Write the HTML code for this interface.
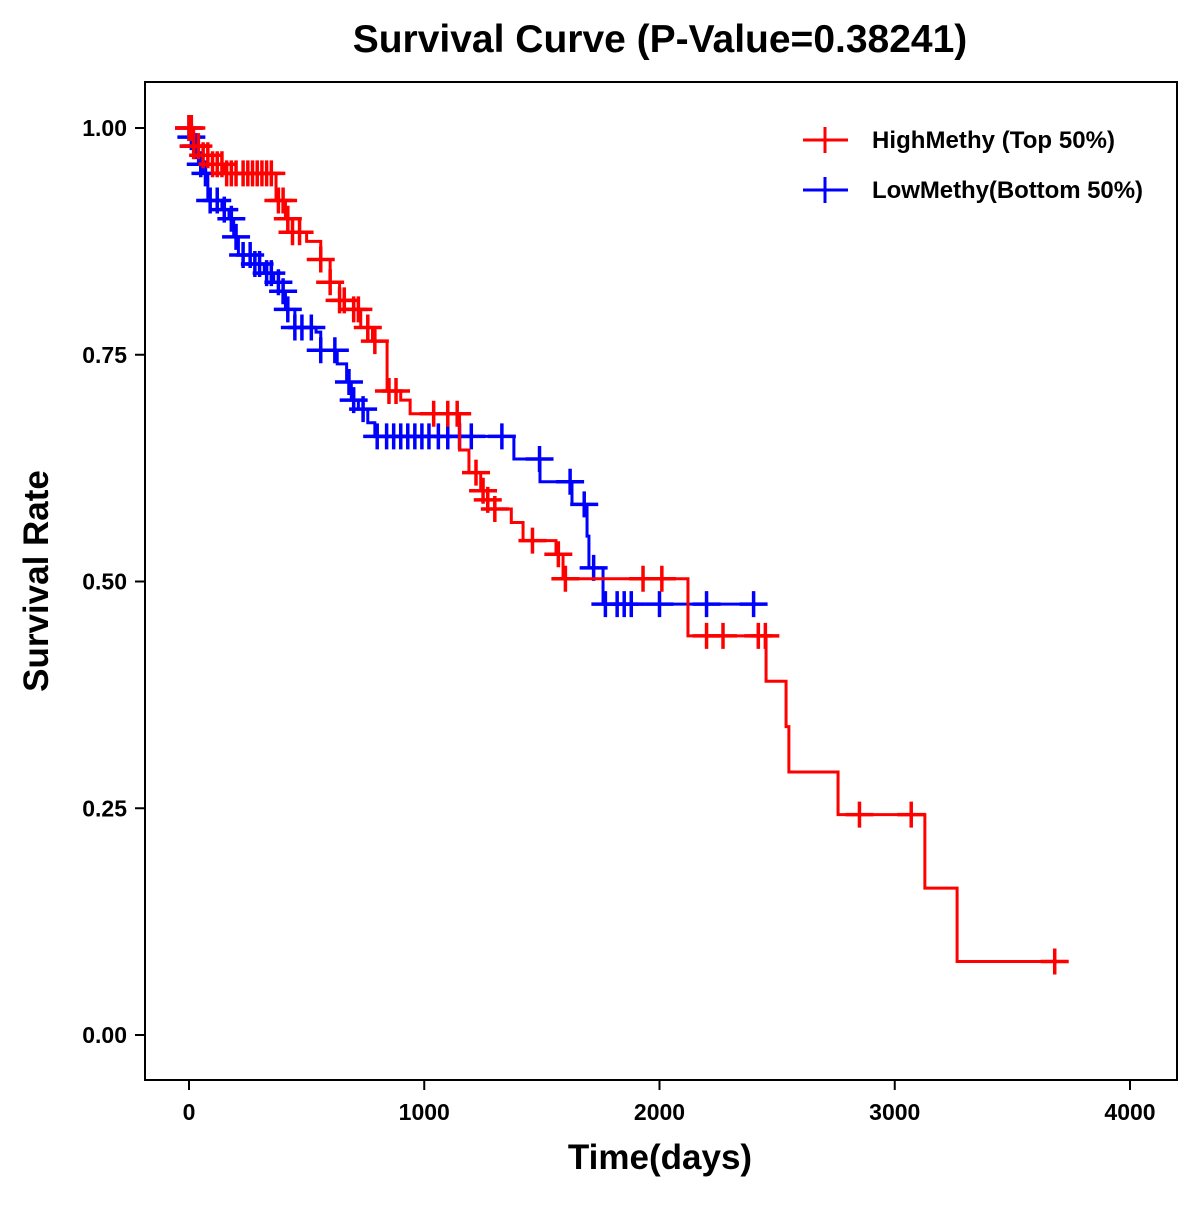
<!DOCTYPE html>
<html><head><meta charset="utf-8"><style>
body{margin:0;background:#fff}
svg text{font-family:"Liberation Sans",Arial,sans-serif;font-weight:bold}
</style></head><body>
<svg id="chart" width="1200" height="1200">
<rect x="0" y="0" width="1200" height="1200" fill="#fff"/>
<text x="660" y="52" font-size="39" text-anchor="middle">Survival Curve (P-Value=0.38241)</text>
<rect x="145" y="82" width="1032" height="998" fill="none" stroke="#000" stroke-width="2"/>
<g id="axes"></g>
<g id="series"></g>
<text x="660" y="1169" font-size="35" text-anchor="middle">Time(days)</text>
<text transform="translate(48,581) rotate(-90)" font-size="35" text-anchor="middle">Survival Rate</text>
<g>
<g>
<line x1="803" y1="140" x2="848" y2="140" stroke="#f00" stroke-width="3"/><line x1="825" y1="127" x2="825" y2="153" stroke="#f00" stroke-width="3"/>
<text x="872" y="148" font-size="24" textLength="243">HighMethy (Top 50%)</text></g>
<g>
<line x1="803" y1="190" x2="848" y2="190" stroke="#00f" stroke-width="3"/><line x1="825" y1="177" x2="825" y2="203" stroke="#00f" stroke-width="3"/>
<text x="872" y="198" font-size="24" textLength="271">LowMethy(Bottom 50%)</text></g>
</g>
</svg>
<script>
const xTicks=[0,1000,2000,3000,4000];
const yTicks=[0,0.25,0.5,0.75,1.0];
const yTickLabels=["0.00","0.25","0.50","0.75","1.00"];
const highTimes=[0,20,60,100,150,370,410,440,500,560,600,640,700,730,780,842,900,940,1150,1190,1240,1270,1300,1370,1420,1560,1590,2121,2453,2538,2550,2759,3128,3265,3715];
const highSurv=[1.0,0.98,0.97,0.96,0.95,0.92,0.90,0.885,0.875,0.855,0.83,0.81,0.80,0.78,0.765,0.71,0.70,0.685,0.645,0.62,0.60,0.59,0.58,0.565,0.545,0.53,0.503,0.44,0.39,0.34,0.29,0.243,0.162,0.081,0.081];
const highCensor=[0,10,20,40,60,80,100,120,140,160,180,200,230,250,270,290,310,330,350,380,400,420,440,470,560,600,640,660,700,720,760,790,850,880,1040,1100,1140,1220,1250,1270,1300,1460,1570,1600,1930,2010,2200,2270,2420,2450,2850,3070,3680];
const lowTimes=[0,10,20,40,60,80,140,170,190,210,280,320,360,400,410,450,540,560,630,670,690,720,760,790,1381,1492,1628,1692,1700,1760,2440];
const lowSurv=[1.0,0.99,0.98,0.96,0.95,0.92,0.91,0.90,0.88,0.86,0.85,0.84,0.83,0.82,0.80,0.78,0.775,0.755,0.74,0.72,0.70,0.69,0.675,0.66,0.635,0.61,0.585,0.55,0.515,0.475,0.475];
const lowCensor=[0,10,20,30,50,70,90,120,150,180,200,230,260,280,300,330,350,380,400,420,450,480,520,560,620,680,700,740,800,840,870,900,930,960,990,1020,1060,1100,1150,1200,1330,1490,1620,1680,1720,1770,1820,1850,1880,2000,2200,2400];
const NS="http://www.w3.org/2000/svg";
const xs=t=>189+t*0.23525;
const ys=v=>1035-v*907;
function mk(tag,attrs,parent){const e=document.createElementNS(NS,tag);for(const k in attrs)e.setAttribute(k,attrs[k]);parent.appendChild(e);return e;}
const axes=document.getElementById('axes');
xTicks.forEach(t=>{
 const l=mk('line',{x1:xs(t),x2:xs(t),y1:1080,y2:1090,stroke:'#000','stroke-width':2},axes);
 
 
 const tx=mk('text',{x:xs(t),y:1120,'font-size':23,'text-anchor':'middle'},axes);tx.textContent=t;
 
 
});
yTicks.forEach((v,i)=>{
 const l=mk('line',{x1:135,x2:145,y1:ys(v),y2:ys(v),stroke:'#000','stroke-width':2},axes);
 
 
 const tx=mk('text',{x:127,y:ys(v)+8,'font-size':23,'text-anchor':'end'},axes);tx.textContent=yTickLabels[i];
 
 
});
const sg=document.getElementById('series');
function survAt(times,surv,t){let s=surv[0];for(let i=0;i<times.length;i++){if(times[i]<=t)s=surv[i];}return s;}
function draw(times,surv,cens,color,name){
 const g=mk('g',{},sg);
 
 
 let d='M'+xs(times[0])+','+ys(surv[0]);
 for(let i=1;i<times.length;i++){d+=' H'+xs(times[i])+' V'+ys(surv[i]);}
 const p=mk('path',{d:d,fill:'none',stroke:color,'stroke-width':3},g);
 
 
 cens.forEach(t=>{
  const x=xs(t),y=ys(survAt(times,surv,t));
  const c=mk('path',{d:`M${x-14},${y} H${x+14} M${x},${y-13} V${y+13}`,stroke:color,'stroke-width':3.5,fill:'none'},g);
  
  
 });
}
draw(lowTimes,lowSurv,lowCensor,'#00f','low-methy');
draw(highTimes,highSurv,highCensor,'#f00','high-methy');
</script>
</body></html>
